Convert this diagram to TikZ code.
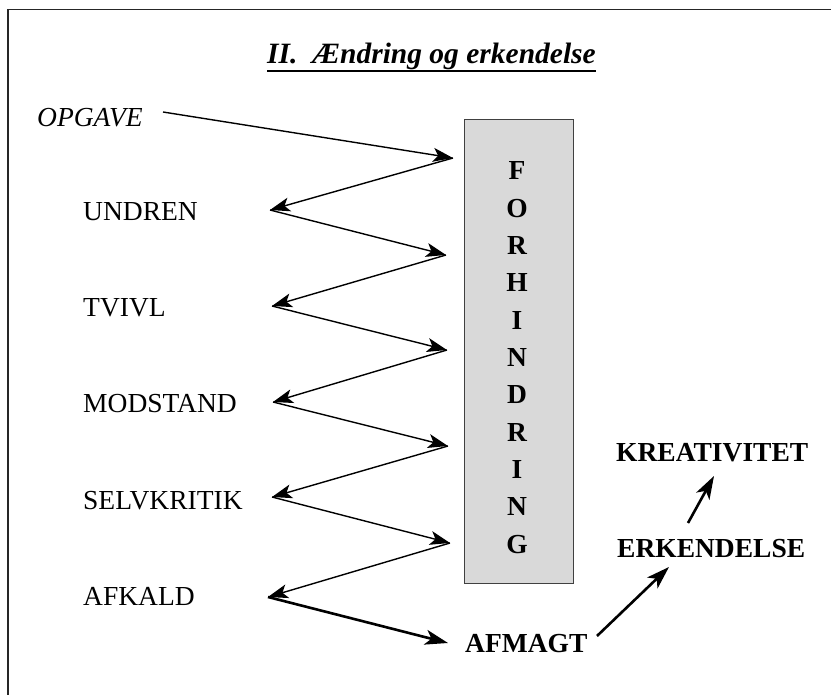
\documentclass[tikz,border=0pt]{standalone}
\usepackage{fontspec}
\setmainfont{Liberation Serif}
\usetikzlibrary{arrows.meta}
\begin{document}
\begin{tikzpicture}[x=1pt,y=-1pt,
  lbl/.style={anchor=base west,inner sep=0pt,font=\fontsize{27.5}{33}\selectfont},
  blbl/.style={anchor=base west,inner sep=0pt,font=\fontsize{27.5}{33}\selectfont\bfseries},
  letter/.style={anchor=base,inner sep=0pt,font=\fontsize{27.5}{33}\selectfont\bfseries},
  thinarrow/.style={line width=1.4pt,-{Stealth[length=20pt,width=14pt,inset=5pt]}},
  thickarrow/.style={line width=2.6pt,-{Stealth[length=23pt,width=15pt,inset=6pt]}},
]
\useasboundingbox (0,0) rectangle (831,695);
% frame (only top and left edges visible)
\draw[line width=1.8pt,black!85] (8,695) -- (8,9.5) -- (831,9.5);

% title
\node[blbl,font=\fontsize{29.5}{35}\selectfont\bfseries\itshape] (title) at (267,64) {II.\ \ Ændring og erkendelse};
\draw[line width=1.7pt] ([yshift=-7pt]title.base west) -- ([yshift=-7pt]title.base east);

% box
\node[draw=black!75,line width=1.3pt,fill=black!15,minimum width=109pt,minimum height=464pt,anchor=north west,inner sep=0pt] (box) at (464,119) {};
\foreach \l [count=\i from 0] in {F,O,R,H,I,N,D,R,I,N,G}
  \node[letter] (L\i) at (517,180+37.3*\i) {\l};

% left labels
\node[lbl,font=\fontsize{27.5}{33}\selectfont\itshape] (opg) at (37,127) {OPGAVE};
\node[lbl] (und) at (83,221) {UNDREN};
\node[lbl] (tvi) at (83,317) {TVIVL};
\node[lbl] (mod) at (83,413) {MODSTAND};
\node[lbl] (sel) at (83,509) {SELVKRITIK};
\node[lbl] (afk) at (83,605) {AFKALD};

% right labels
\node[blbl] (afm) at (465,652) {AFMAGT};
\node[blbl] (erk) at (617,557) {ERKENDELSE};
\node[blbl] (kre) at (616,461) {KREATIVITET};

% zigzag points
\coordinate (s0) at (163,112);
\coordinate (r1) at (453,158);
\coordinate (l1) at (270,210);
\coordinate (r2) at (446,255);
\coordinate (l2) at (272,306);
\coordinate (r3) at (447,350);
\coordinate (l3) at (273,402);
\coordinate (r4) at (448,446);
\coordinate (l4) at (272,497);
\coordinate (r5) at (450,543);
\coordinate (l5) at (268,597);
\coordinate (r6) at (448,643);
\coordinate (a1) at (597,636);
\coordinate (a2) at (669,567);
\coordinate (b1) at (688,523);
\coordinate (b2) at (714,476);

\draw[thinarrow] (s0) -- (r1);
\draw[thinarrow] (r1) -- (l1);
\draw[thinarrow] (l1) -- (r2);
\draw[thinarrow] (r2) -- (l2);
\draw[thinarrow] (l2) -- (r3);
\draw[thinarrow] (r3) -- (l3);
\draw[thinarrow] (l3) -- (r4);
\draw[thinarrow] (r4) -- (l4);
\draw[thinarrow] (l4) -- (r5);
\draw[thinarrow] (r5) -- (l5);
\draw[thickarrow] (l5) -- (r6);
\draw[thickarrow] (a1) -- (a2);
\draw[thickarrow] (b1) -- (b2);
\end{tikzpicture}
\end{document}
